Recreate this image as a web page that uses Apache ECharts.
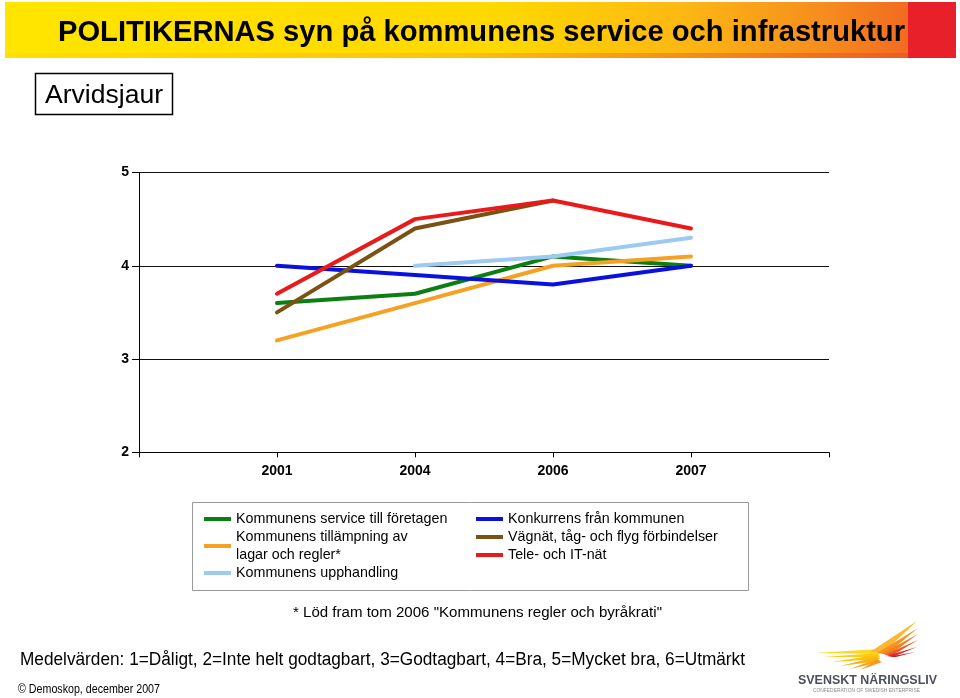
<!DOCTYPE html>
<html><head><meta charset="utf-8">
<script src="https://cdn.jsdelivr.net/npm/echarts@6/dist/echarts.min.js"></script>
<style>html,body{margin:0;padding:0;background:#fff}#c{width:960px;height:698px}</style>
</head><body><div id="c"></div>
<script>
// ---------- data ----------
const categories = ['', '2001', '2004', '2006', '2007', ''];
const yTickValues = [2, 3, 4, 5];
const nameService = 'Kommunens service till företagen';
const nameLagar = 'Kommunens tillämpning av lagar och regler*';
const nameUpphandling = 'Kommunens upphandling';
const nameKonkurrens = 'Konkurrens från kommunen';
const nameVagnat = 'Vägnät, tåg- och flyg förbindelser';
const nameTele = 'Tele- och IT-nät';
const valService = [null, 3.6, 3.7, 4.1, 4.0, null];
const valLagar = [null, 3.2, 3.6, 4.0, 4.1, null];
const valUpphandling = [null, null, 4.0, 4.1, 4.3, null];
const valKonkurrens = [null, 4.0, 3.9, 3.8, 4.0, null];
const valVagnat = [null, 3.5, 4.4, 4.7, null, null];
const valTele = [null, 3.7, 4.5, 4.7, 4.4, null];

// ---------- styles ----------
const FONT = '"Liberation Sans", Arial, sans-serif';
const colors = {};
colors[nameService] = '#0b7f12';
colors[nameLagar] = '#f5a123';
colors[nameUpphandling] = '#9ccaf0';
colors[nameKonkurrens] = '#0a10e0';
colors[nameVagnat] = '#7b5214';
colors[nameTele] = '#ea1a1a';

const seriesDefs = [
  [nameService, valService], [nameLagar, valLagar], [nameUpphandling, valUpphandling],
  [nameKonkurrens, valKonkurrens], [nameVagnat, valVagnat], [nameTele, valTele]
];

const legendLayout = [
  [nameService, 204, 510],
  [nameLagar, 204, 528],
  [nameUpphandling, 204, 564],
  [nameKonkurrens, 476, 510],
  [nameVagnat, 476, 528],
  [nameTele, 476, 546]
];

const ctx = document.createElement('canvas').getContext('2d');
function fit(text, size, weight, target) {
  ctx.font = (weight || 'normal') + ' ' + size + 'px ' + FONT;
  return target / ctx.measureText(text).width;
}
function txt(text, x, y, size, weight, target, fill, align) {
  const s = target ? fit(text, size, weight, target) : 1;
  return {
    type: 'text', x: x, y: y, scaleX: s, scaleY: 1, z: 10,
    style: { text: text, fontSize: size, fontWeight: weight || 'normal', fontFamily: FONT,
      fill: fill || '#000', textAlign: align || 'left', textVerticalAlign: 'middle' }
  };
}

const chart = echarts.init(document.getElementById('c'), null, { renderer: 'canvas' });

const legends = legendLayout.map(function (l) {
  return {
    data: [l[0]], left: l[1], top: l[2], orient: 'vertical', padding: 0, itemGap: 0,
    icon: 'rect', itemWidth: 27, itemHeight: 4, selectedMode: false,
    formatter: function (n) { return n === nameLagar ? 'Kommunens tillämpning av\nlagar och regler*' : n; },
    textStyle: { fontSize: 14.3, fontFamily: FONT, color: '#000', lineHeight: 18 }
  };
});

// decorative logo strokes (tip, base1, base2, colour)
const wing = [
  [[815,653],[880,649],[882,654],'#ffd526'],
  [[823,657],[878,653],[880,657],'#ffcc14'],
  [[831,662],[877,655],[880,659],'#fdc010'],
  [[840,666],[876,657],[880,661],'#fbb317'],
  [[850,669],[876,659],[881,662],'#f9a61b'],
  [[860,670],[877,660],[882,662],'#f7981d'],
  [[917,621],[870,652],[884,652],'#fbb632'],
  [[918,628],[877,653],[888,653],'#f7941d'],
  [[918,634],[881,654],[891,654],'#f4801f'],
  [[918,640],[884,655],[893,655],'#ef5a24'],
  [[917,647],[886,656],[895,656],'#e0282c'],
  [[915,652],[887,657],[896,657],'#c4202a']
];

const graphics = [
  { type: 'rect', shape: { x: 5, y: 2, width: 903, height: 56 }, z: 1,
    style: { fill: new echarts.graphic.LinearGradient(0, 0, 1, 0, [
      { offset: 0, color: '#ffe500' }, { offset: 0.55, color: '#ffd800' },
      { offset: 0.75, color: '#fdb813' }, { offset: 0.9, color: '#f68f1e' }, { offset: 1, color: '#f26b21' }]) } },
  { type: 'rect', shape: { x: 5, y: 53, width: 903, height: 5 }, z: 2,
    style: { fill: new echarts.graphic.LinearGradient(0, 0, 1, 0, [
      { offset: 0, color: '#ffe000' }, { offset: 0.5, color: '#fcc20e' }, { offset: 1, color: '#f05a22' }]) } },
  { type: 'rect', shape: { x: 908, y: 2, width: 48, height: 56 }, z: 2, style: { fill: '#e8202a' } },
  txt('POLITIKERNAS syn på kommunens service och infrastruktur', 58, 33, 29, 'bold', 847),
  { type: 'rect', shape: { x: 35.5, y: 73.5, width: 137, height: 41 }, z: 5,
    style: { fill: '#fff', stroke: '#000', lineWidth: 1.5 } },
  txt('Arvidsjaur', 45, 96, 26, 'normal', 118),
  { type: 'rect', shape: { x: 192.5, y: 502.5, width: 556, height: 88 }, z: 1,
    style: { fill: 'none', stroke: '#9a9a9a', lineWidth: 1 } },
  txt('* Löd fram tom 2006 "Kommunens regler och byråkrati"', 293, 613, 14, 'normal', 369),
  txt('Medelvärden: 1=Dåligt, 2=Inte helt godtagbart, 3=Godtagbart, 4=Bra, 5=Mycket bra, 6=Utmärkt', 20, 660, 18, 'normal', 725),
  txt('© Demoskop, december 2007', 18, 690, 12, 'normal', 142),
  txt('SVENSKT NÄRINGSLIV', 798, 680, 13, 'bold', 139, '#4d505c'),
  txt('CONFEDERATION OF SWEDISH ENTERPRISE', 813, 691, 5, 'normal', 107, '#8a8a8a')
].concat(wing.map(function (w) {
  return { type: 'polygon', z: 10, shape: { points: [w[0], w[1], w[2]] }, style: { fill: w[3] } };
}));

chart.setOption({
  animation: false,
  backgroundColor: '#fff',
  grid: { left: 139, right: 131, top: 172.5, bottom: 245.7, containLabel: false },
  legend: legends,
  xAxis: {
    type: 'category', data: categories, boundaryGap: false,
    axisLine: { lineStyle: { color: '#000', width: 1 } },
    axisTick: { show: true, length: 5, interval: 0, lineStyle: { color: '#000' } },
    axisLabel: { interval: 0, margin: 12, fontSize: 14, fontWeight: 'bold', fontFamily: FONT, color: '#000' },
    splitLine: { show: false }
  },
  yAxis: {
    type: 'value', min: yTickValues[0], max: yTickValues[yTickValues.length - 1], interval: 1,
    axisLine: { show: true, lineStyle: { color: '#000', width: 1 } },
    axisTick: { show: true, length: 7, lineStyle: { color: '#000' } },
    axisLabel: { margin: 10, fontSize: 14, fontWeight: 'bold', fontFamily: FONT, color: '#000' },
    splitLine: { show: true, lineStyle: { color: '#111', width: 1 } }
  },
  series: seriesDefs.map(function (d) {
    return {
      name: d[0], type: 'line', data: d[1], showSymbol: false, symbol: 'none',
      connectNulls: false, color: colors[d[0]],
      lineStyle: { width: 4, color: colors[d[0]], cap: 'round', join: 'round' }
    };
  }),
  graphic: graphics
});
</script></body></html>
